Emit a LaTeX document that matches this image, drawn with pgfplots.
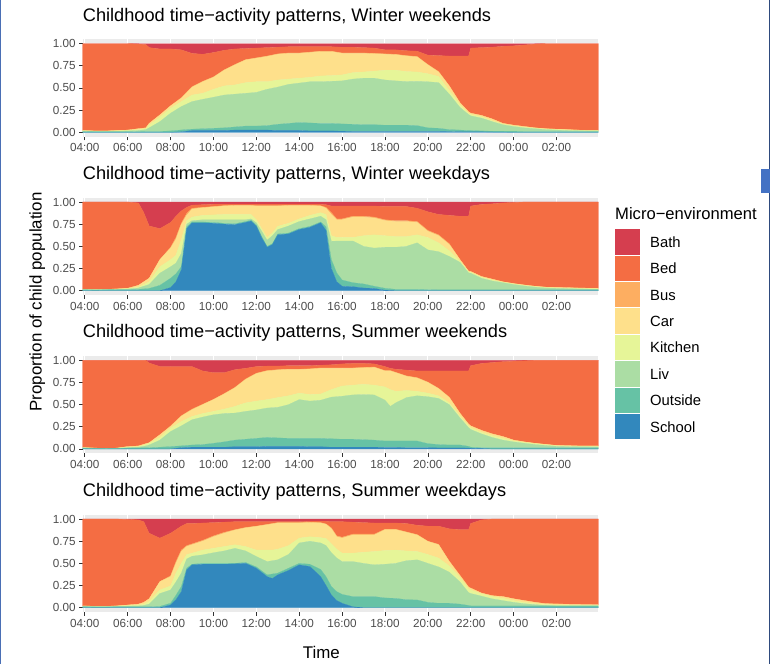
\documentclass[border=0pt]{standalone}
\usepackage{fontspec}
\setmainfont{Liberation Sans}
\usepackage{pgfplots}
\pgfplotsset{compat=1.18}
\usepackage{pgfplotstable}

\definecolor{cBath}{HTML}{D53E4F}
\definecolor{cBed}{HTML}{F46D43}
\definecolor{cBus}{HTML}{FDAE61}
\definecolor{cCar}{HTML}{FEE08B}
\definecolor{cKitchen}{HTML}{E6F598}
\definecolor{cLiv}{HTML}{ABDDA4}
\definecolor{cOutside}{HTML}{66C2A5}
\definecolor{cSchool}{HTML}{3288BD}
\definecolor{panelbg}{HTML}{EBEBEB}
\definecolor{ticktxt}{HTML}{4D4D4D}
\definecolor{tickcol}{HTML}{333333}

% cumulative tops of each layer, t = hours after 04:00
% S=School, O=Outside, L=Liv, K=Kitchen, C=Car, U=Bus, D=Bed (Bath fills to 1)
\pgfplotstableread{
t     S     O     L     K     C     U     D
-0.1  0     .008  .014  .016  .02   .02   1
0.5   0     .005  .01   .012  .015  .015  1
1     0     .005  .01   .012  .015  .015  1
1.5   0     .005  .012  .015  .02   .02   1
2     0     .006  .015  .02   .025  .025  1
2.5   0     .008  .02   .03   .04   .04   .995
2.85  0     .01   .03   .04   .05   .05   .99
3     0     .01   .05   .08   .10   .10   .955
3.5   0     .01   .12   .17   .195  .195  .94
4     0     .015  .215  .27   .297  .30   .94
4.5   .005  .026  .29   .346  .384  .39   .93
5     .02   .035  .346  .42   .508  .515  .89
5.5   .02   .04   .372  .44   .57   .575  .88
6     .02   .045  .395  .485  .62   .625  .90
6.5   .02   .05   .42   .523  .70   .705  .925
7     .025  .06   .43   .534  .76   .765  .94
7.5   .025  .07   .44   .56   .816  .82   .945
8     .025  .07   .45   .57   .835  .84   .95
8.5   .025  .075  .485  .57   .855  .86   .955
9     .02   .09   .51   .59   .88   .885  .96
9.5   .02   .10   .54   .60   .89   .895  .965
10    .02   .11   .555  .61   .89   .895  .965
10.5  .015  .105  .57   .62   .90   .905  .965
11    .015  .10   .57   .635  .91   .915  .965
11.5  .015  .10   .575  .64   .91   .915  .965
12    .012  .094  .58   .647  .89   .895  .96
12.5  .01   .09   .60   .673  .89   .895  .96
13    .01   .085  .61   .68   .89   .895  .955
13.5  .01   .085  .61   .69   .885  .89   .95
14    .01   .08   .59   .70   .88   .885  .93
14.5  .01   .08   .58   .70   .875  .88   .93
15    .01   .08   .572  .685  .86   .865  .92
15.5  .01   .075  .575  .68   .85   .855  .915
16    .01   .05   .57   .66   .76   .765  .87
16.5  .01   .045  .56   .63   .68   .685  .865
17    .008  .03   .43   .47   .52   .525  .86
17.5  .006  .025  .28   .31   .33   .335  .86
17.9  .005  .02   .20   .21   .23   .23   .86
18    .005  .02   .185  .20   .214  .216  .95
18.5  .005  .015  .16   .175  .19   .19   .955
19    .003  .012  .12   .13   .15   .15   .96
19.5  .002  .012  .085  .09   .10   .10   .97
20    0     .012  .065  .07   .08   .08   .975
20.5  0     .01   .05   .055  .065  .065  .985
21    0     .01   .04   .045  .05   .05   .995
21.5  0     .01   .03   .035  .04   .04   1
22    0     .01   .025  .03   .035  .035  1
22.5  0     .01   .02   .025  .03   .03   1
23    0     .01   .017  .02   .025  .025  1
23.5  0     .01   .015  .018  .02   .02   1
23.95 0     .01   .015  .017  .02   .02   1
}\winterweekends

\pgfplotstableread{
t     S     O     L     K     C     U     D
-0.1  0     .01   .012  .013  .015  .015  1
0.5   0     .008  .01   .011  .012  .012  1
1     0     .01   .012  .013  .015  .015  1
1.5   0     .012  .015  .017  .02   .02   1
2     0     .012  .018  .022  .027  .027  1
2.5   0     .015  .03   .04   .06   .06   .99
2.75  0     .02   .05   .07   .10   .10   .88
3     0     .025  .07   .10   .14   .14   .73
3.5   0     .06   .197  .27   .35   .35   .70
4     .035  .14   .27   .35   .48   .49   .77
4.25  .10   .19   .31   .40   .58   .60   .84
4.5   .235  .27   .42   .576  .746  .76   .90
4.75  .70   .72   .75   .79   .85   .87   .94
5     .765  .775  .79   .83   .92   .93   .965
5.5   .765  .775  .80   .85   .935  .94   .97
6     .76   .77   .80   .855  .945  .95   .975
6.5   .75   .76   .80   .86   .955  .96   .975
7     .745  .755  .80   .86   .96   .962  .975
7.5   .77   .78   .80   .86   .96   .962  .975
7.75  .785  .795  .81   .86   .96   .962  .975
8     .727  .74   .765  .80   .955  .958  .975
8.25  .595  .61   .67   .70   .955  .958  .975
8.5   .49   .50   .57   .60   .955  .958  .975
8.75  .52   .53   .62   .65   .955  .958  .975
9     .63   .64   .69   .727  .955  .958  .975
9.5   .64   .65   .73   .76   .96   .962  .975
10    .69   .70   .78   .81   .96   .962  .975
10.5  .715  .725  .81   .85   .96   .962  .975
11    .765  .775  .84   .88   .955  .958  .975
11.25 .68   .72   .80   .86   .93   .94   .97
11.5  .25   .35   .557  .62   .86   .88   .955
11.75 .10   .20   .56   .60   .80   .81   .955
12    .05   .12   .56   .60   .80   .81   .955
12.5  .045  .09   .56   .60   .83   .84   .955
13    .03   .076  .50   .62   .83   .84   .955
13.5  .025  .05   .48   .63   .82   .83   .955
14    .005  .027  .49   .62   .79   .80   .95
14.5  0     .015  .49   .61   .78   .79   .95
15    0     .015  .50   .61   .78   .79   .95
15.5  0     .015  .54   .63   .77   .78   .93
16    0     .012  .46   .60   .67   .68   .89
16.5  0     .01   .44   .54   .62   .63   .86
17    0     .01   .386  .45   .52   .53   .85
17.5  0     .01   .32   .33   .35   .35   .84
17.9  0     .01   .20   .21   .22   .22   .84
18    0     .01   .197  .205  .216  .216  .955
18.5  0     .01   .14   .15   .16   .16   .973
19    0     .01   .11   .12   .13   .13   .98
19.5  0     .01   .09   .095  .10   .10   .99
20    0     .01   .07   .075  .08   .08   .995
20.5  0     .01   .053  .058  .064  .064  1
21    0     .01   .04   .045  .05   .05   1
21.5  0     .01   .03   .035  .04   .04   1
22    0     .01   .027  .03   .038  .038  1
23    0     .01   .02   .024  .03   .03   1
23.95 0     .01   .015  .02   .027  .027  1
}\winterweekdays

\pgfplotstableread{
t     S     O     L     K     C     U     D
-0.1  0     .01   .013  .014  .015  .015  1
0.5   0     .005  .008  .009  .01   .01   1
1     0     .004  .006  .007  .008  .008  1
1.5   0     .005  .008  .009  .01   .01   1
2     0     .01   .015  .02   .027  .027  1
2.5   0     .012  .02   .025  .034  .034  1
2.85  0     .014  .035  .05   .06   .06   1
3     0     .015  .045  .064  .07   .07   .97
3.5   0     .02   .10   .13   .16   .16   .93
4     0     .027  .197  .235  .254  .26   .93
4.5   .015  .035  .26   .31   .37   .375  .93
5     .02   .045  .33   .367  .443  .45   .93
5.5   .02   .05   .36   .40   .50   .505  .88
6     .02   .064  .386  .424  .557  .56   .86
6.5   .02   .08   .40   .45   .62   .625  .86
7     .025  .10   .405  .48   .69   .695  .895
7.5   .025  .11   .424  .52   .784  .79   .91
8     .025  .12   .44   .54   .85   .855  .93
8.5   .03   .13   .462  .557  .88   .885  .935
9     .03   .125  .47   .58   .89   .895  .935
9.5   .03   .12   .50   .60   .898  .90   .94
10    .03   .12   .557  .63   .898  .90   .94
10.5  .025  .12   .54   .614  .90   .905  .94
11    .025  .12   .55   .62   .91   .915  .945
11.5  .02   .115  .585  .67   .91   .915  .95
12    .02   .11   .595  .71   .91   .915  .96
12.5  .02   .11   .61   .72   .91   .915  .965
13    .02   .105  .614  .73   .915  .92   .965
13.5  .02   .10   .61   .72   .92   .925  .96
14    .018  .09   .55   .70   .88   .885  .93
14.25 .018  .09   .48   .67   .88   .885  .91
14.5  .018  .09   .52   .65   .86   .865  .90
15    .015  .09   .58   .66   .82   .825  .89
15.5  .015  .09   .60   .65   .80   .805  .88
16    .015  .06   .59   .63   .75   .755  .88
16.5  .012  .05   .57   .60   .68   .685  .88
17    .012  .045  .50   .52   .58   .585  .88
17.5  .012  .045  .35   .37   .40   .405  .88
17.9  .01   .03   .24   .26   .28   .28   .88
18    .008  .02   .22   .24   .26   .26   .94
18.5  .005  .015  .17   .19   .21   .21   .965
19    0     .015  .13   .15   .17   .17   .975
19.5  0     .015  .10   .12   .14   .14   .985
20    0     .015  .08   .09   .10   .10   .99
20.5  0     .015  .065  .075  .08   .08   .995
21    0     .015  .05   .06   .064  .064  1
21.5  0     .015  .04   .047  .052  .052  1
22    0     .015  .03   .035  .04   .04   1
22.5  0     .015  .027  .033  .037  .037  1
23    0     .015  .025  .031  .035  .035  1
23.95 0     .015  .023  .03   .034  .034  1
}\summerweekends

\pgfplotstableread{
t     S     O     L     K     C     U     D
-0.1  0     .01   .015  .017  .02   .02   1
0.5   0     .008  .012  .014  .016  .016  1
1     0     .008  .012  .014  .016  .016  1
1.5   0     .01   .015  .018  .02   .02   1
2     0     .01   .018  .022  .03   .03   .995
2.5   0     .01   .02   .03   .04   .04   .99
2.75  0     .01   .025  .04   .06   .06   .97
3     0     .01   .04   .07   .10   .10   .84
3.5   0     .015  .16   .20   .294  .294  .785
4     .03   .05   .20   .245  .35   .36   .84
4.25  .09   .14   .29   .39   .50   .52   .88
4.5   .18   .238  .39   .50   .634  .65   .92
4.75  .426  .445  .55   .60   .69   .70   .95
5     .483  .49   .58   .615  .71   .72   .95
5.5   .49   .50   .596  .65   .75   .76   .955
6     .49   .50   .62   .67   .80   .81   .96
6.5   .49   .50   .64   .69   .84   .85   .965
7     .494  .50   .67   .71   .875  .88   .97
7.5   .50   .51   .64   .69   .90   .905  .97
8     .445  .46   .577  .65   .917  .92   .97
8.5   .35   .37   .52   .65   .935  .94   .97
8.75  .33   .38   .53   .65   .945  .95   .97
9     .37   .39   .54   .66   .955  .96   .97
9.5   .42   .445  .60   .70   .955  .96   .97
10    .483  .50   .73   .785  .955  .96   .97
10.5  .464  .49   .75   .80   .96   .965  .975
11    .35   .43   .73   .79   .955  .96   .975
11.25 .25   .35   .70   .78   .94   .945  .975
11.5  .143  .238  .62   .72   .89   .90   .97
11.75 .08   .18   .56   .66   .80   .81   .97
12    .05   .15   .52   .615  .785  .795  .97
12.5  .01   .125  .52   .615  .82   .83   .965
13    0     .125  .50   .625  .82   .83   .96
13.5  0     .125  .483  .634  .82   .83   .955
14    0     .11   .49   .645  .88   .885  .955
14.5  0     .105  .50   .65   .88   .885  .955
15    0     .09   .53   .64   .85   .855  .95
15.5  0     .087  .54   .634  .82   .825  .93
16    0     .06   .50   .60   .747  .75   .92
16.5  0     .05   .46   .56   .71   .715  .92
17    0     .05   .40   .47   .52   .525  .89
17.5  0     .04   .29   .34   .36   .365  .88
17.9  0     .025  .17   .21   .23   .235  .88
18    0     .02   .16   .20   .22   .22   .95
18.5  0     .02   .13   .155  .165  .165  .99
19    0     .02   .10   .125  .135  .135  1
19.5  0     .02   .08   .105  .125  .125  1
20    0     .02   .06   .08   .10   .10   1
20.5  0     .02   .045  .06   .08   .08   1
21    0     .02   .035  .045  .06   .06   1
21.5  0     .02   .025  .035  .045  .045  1
22    0     .02   .02   .03   .042  .042  1
23    0     .02   .02   .027  .036  .036  1
23.95 0     .02   .02   .026  .034  .034  1
}\summerweekdays

\pgfplotsset{
  panel/.style={
    scale only axis, width=515.6bp, height=97.5bp,
    anchor=south west,
    xmin=-0.1, xmax=23.95, ymin=-0.05, ymax=1.05,
    stack plots=y,
    axis background/.style={fill=panelbg},
    axis line style={draw=none},
    tick align=outside, tick pos=left,
    major tick length=3.6bp,
    tick style={draw=tickcol, line width=0.7bp},
    xtick={0,2,...,22},
    xticklabels={04:00,06:00,08:00,10:00,12:00,14:00,16:00,18:00,20:00,22:00,00:00,02:00},
    ytick={0,0.25,0.5,0.75,1},
    yticklabels={0.00,0.25,0.50,0.75,1.00},
    ticklabel style={font=\fontsize{11.7bp}{13bp}\selectfont, text=ticktxt},
    xmajorgrids, ymajorgrids,
    grid style={draw=white, line width=1bp},
    title style={at={(0,1)}, anchor=base west, yshift=12bp, inner sep=0pt,
      font=\fontsize{18.2bp}{20bp}\selectfont},
  },
  area/.style={fill=#1, draw=#1, line width=0.2bp},
}

\newcommand{\stackareas}[1]{%
  \addplot[draw=none, forget plot] table[x=t, y expr=0] {#1};
  \addplot[area=cSchool] table[x=t, y=S] {#1} \closedcycle;
  \addplot[area=cOutside] table[x=t, y expr=\thisrow{O}-\thisrow{S}] {#1} \closedcycle;
  \addplot[area=cLiv] table[x=t, y expr=\thisrow{L}-\thisrow{O}] {#1} \closedcycle;
  \addplot[area=cKitchen] table[x=t, y expr=\thisrow{K}-\thisrow{L}] {#1} \closedcycle;
  \addplot[area=cCar] table[x=t, y expr=\thisrow{C}-\thisrow{K}] {#1} \closedcycle;
  \addplot[area=cBus] table[x=t, y expr=\thisrow{U}-\thisrow{C}] {#1} \closedcycle;
  \addplot[area=cBed] table[x=t, y expr=\thisrow{D}-\thisrow{U}] {#1} \closedcycle;
  \addplot[area=cBath] table[x=t, y expr=1-\thisrow{D}] {#1} \closedcycle;
}

\begin{document}
\begin{tikzpicture}
\path[use as bounding box] (0bp,0bp) rectangle (770bp,664bp);
\fill[white] (0bp,0bp) rectangle (770bp,664bp);

\begin{axis}[panel, at={(82.7bp,527.3bp)}, title={Childhood time−activity patterns, Winter weekends}]
\stackareas{\winterweekends}
\end{axis}

\begin{axis}[panel, at={(82.7bp,368.9bp)}, title={Childhood time−activity patterns, Winter weekdays}]
\stackareas{\winterweekdays}
\end{axis}

\begin{axis}[panel, at={(82.7bp,210.6bp)}, title={Childhood time−activity patterns, Summer weekends}]
\stackareas{\summerweekends}
\end{axis}

\begin{axis}[panel, at={(82.7bp,51.9bp)}, title={Childhood time−activity patterns, Summer weekdays}]
\stackareas{\summerweekdays}
\end{axis}

\begin{scope}[x=1bp, y=1bp]
% axis titles
\node[rotate=90, anchor=base, inner sep=0pt, font=\fontsize{16.9bp}{18bp}\selectfont]
  at (41.5,362) {Proportion of child population};
\node[anchor=base, inner sep=0pt, font=\fontsize{16.9bp}{18bp}\selectfont]
  at (321.3,5.7) {Time};

% legend
\node[anchor=base west, inner sep=0pt, font=\fontsize{16.6bp}{18bp}\selectfont]
  at (615,444.7) {Micro−environment};
\foreach \c/\n [count=\i from 0] in {cBath/Bath, cBed/Bed, cBus/Bus, cCar/Car,
    cKitchen/Kitchen, cLiv/Liv, cOutside/Outside, cSchool/School} {
  \pgfmathsetmacro\ytop{434.7-26.4*\i}
  \pgfmathsetmacro\ybot{\ytop-25.4}
  \pgfmathsetmacro\ybase{416.7-26.4*\i}
  \fill[\c] (615,\ybot) rectangle (640,\ytop);
  \node[anchor=base west, inner sep=0pt, font=\fontsize{14.8bp}{16bp}\selectfont]
    at (650,\ybase) {\n};
}

% screenshot frame marks
\fill[color={rgb,255:red,74;green,111;blue,181}] (0,0) rectangle (1.2,664);
\fill[color={rgb,255:red,46;green,74;blue,125}] (768.6,0) rectangle (770,664);
\fill[color={rgb,255:red,68;green,114;blue,196}] (761,471.3) rectangle (770,494.7);
\end{scope}
\end{tikzpicture}
\end{document}
